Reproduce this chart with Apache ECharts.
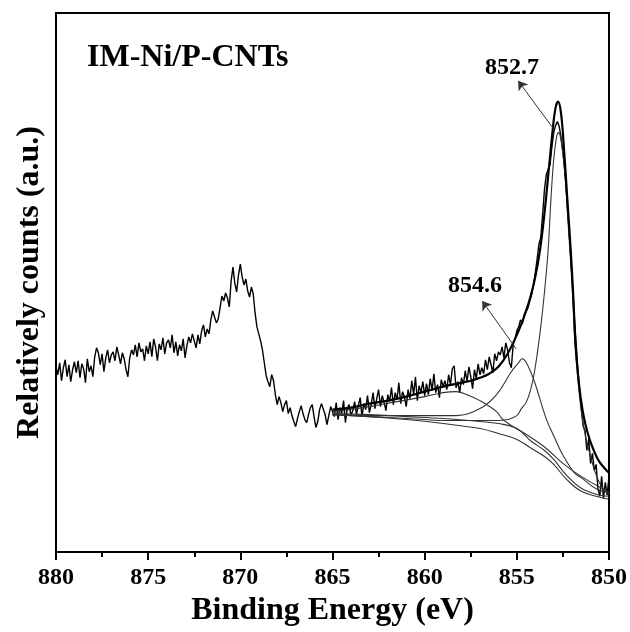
<!DOCTYPE html>
<html>
<head>
<meta charset="utf-8">
<script src="https://cdn.jsdelivr.net/npm/echarts@6/dist/echarts.min.js"></script>
<style>
  html, body { margin: 0; padding: 0; background: #fff; }
  #myChart { width: 630px; height: 632px; }
</style>
</head>
<body>
<div id="myChart"></div>
<script>
// 原始谱线: 880 eV 起, 每 0.1 eV 一个点 (强度为任意单位)
const rawStart = 880
const rawStep = 0.1
const rawCounts = [
  186, 178, 190, 172, 185, 193, 176, 188, 171, 183, 191,
  180, 192, 175, 189, 184, 170, 194, 181, 187, 176,
  196, 205, 200, 188, 199, 181, 195, 203, 190, 198,
  201, 192, 206, 198, 189, 200, 194, 183, 176, 195,
  203, 198, 208, 196, 210, 201, 204, 192, 207, 199,
  211, 196, 214, 206, 192, 209, 203, 215, 199, 210,
  213, 205, 218, 200, 211, 197, 208, 202, 214, 195,
  207, 216, 210, 219, 212, 205, 218, 209, 222, 228,
  216, 224, 219, 233, 242, 236, 230, 234, 245, 257,
  252, 260, 255, 246, 272, 286, 270, 261, 278, 289,
  276, 268, 274, 262, 256, 266, 259, 240, 226, 219,
  212, 203, 190, 177, 171, 166, 178, 172, 158, 148,
  156, 150, 141, 148, 152, 139, 145, 137, 131, 126,
  134, 141, 147, 139, 133, 130, 138, 145, 148, 136,
  125, 131, 143, 149, 151, 138, 128, 137, 146, 144,
  136, 150, 133, 145, 139, 152, 130, 144, 148, 137,
  142, 151, 138, 147, 155, 136, 149, 143, 157, 140,
  148, 160, 144, 154, 163, 146, 157, 150, 142, 158,
  151, 165, 148, 160, 153, 170, 149, 161, 156, 146,
  163, 154, 172, 158, 176, 152, 167, 160, 171, 157,
  169, 158, 174, 162, 179, 160, 168, 155, 173, 166,
  172, 163, 178, 168, 184, 187, 165, 171, 160, 175,
  168, 182, 171, 186, 176, 164, 183, 174, 189, 178,
  185, 179, 193, 183, 196, 188, 180, 199, 192, 201,
  198, 206, 195, 210, 203, 190, 185, 208, 214, 222,
  226, 233, 229, 238, 236, 245, 252, 258, 268, 280,
  294, 309, 316, 339, 364, 379, 384, 389, 406, 421,
  428, 432, 427, 416, 402, 382, 359, 332, 304, 274,
  242, 214, 186, 164, 144, 126, 122, 102, 114, 89,
  99, 82, 88, 64, 56, 76, 54, 70, 57, 76
]

// 拟合包络线 [eV, 强度]
const envelope = [
  [865, 143], [864, 145], [863, 149], [862, 152], [861, 156], [860, 161],
  [859, 166], [858, 170], [857.5, 172], [857, 175], [856.5, 179], [856, 186],
  [855.5, 199], [855, 218], [854.75, 229], [854.5, 242], [854.25, 257],
  [854, 276], [853.75, 302], [853.5, 340], [853.25, 387], [853.07, 421],
  [852.9, 446], [852.76, 452], [852.6, 440], [852.44, 404], [852.26, 354],
  [852.08, 304], [851.93, 254], [851.8, 204], [851.53, 154], [851.18, 121],
  [850.63, 94], [850.09, 81], [850, 80]
]

// 852.7 eV 峰
const peakMain = [
  [865, 138], [864, 137], [863, 136], [862, 135], [861, 134], [860, 133],
  [859, 132], [858, 132], [857, 132], [856, 132], [855.5, 133], [855, 137],
  [854.75, 144], [854.5, 150], [854.25, 163], [854.05, 180], [853.75, 219],
  [853.5, 261], [853.3, 304], [853.15, 354], [853, 394], [852.85, 416],
  [852.75, 421], [852.65, 418], [852.55, 406], [852.4, 382], [852.25, 339],
  [852.1, 296], [852, 266], [851.85, 212], [851.7, 176], [851.5, 141],
  [851.25, 114], [851, 96], [850.75, 80], [850.5, 69], [850.25, 62], [850, 58]
]

// 854.6 eV 峰
const peakSecond = [
  [865, 138], [863, 137], [861, 137], [859, 137], [858.3, 137], [857, 144],
  [856.1, 158], [855.3, 181], [854.95, 189], [854.7, 194], [854.45, 189],
  [854.06, 172], [853.41, 134], [852.98, 116], [852.55, 99], [851.9, 80],
  [851.46, 74], [850.65, 63], [850, 60]
]

// 卫星峰
const peakSat = [
  [865, 141], [863, 146], [861.5, 151], [860, 156], [859, 160], [858.3, 161],
  [857.7, 158], [857, 152], [856.1, 141], [855.8, 134], [855.3, 127],
  [854.4, 117], [853.4, 104], [852.5, 89], [851.6, 77], [850.1, 61], [850, 60]
]

// Shirley 背景
const bgUpper = [
  [865, 139], [863, 138], [861, 136], [859, 134], [857, 131], [856, 129],
  [855, 124], [854.2, 111], [853.5, 102], [853, 93], [852.3, 77],
  [851.5, 64], [850.5, 57], [850, 56]
]
const bgLower = [
  [865, 138], [863, 136], [861, 133], [859, 129], [857, 124], [856, 119],
  [855, 113], [854.2, 104], [853.5, 96], [853, 88], [852.3, 73],
  [851.5, 61], [850.5, 55], [850, 53]
]

const xTicks = [850, 855, 860, 865, 870, 875, 880]

const serif = 'Liberation Serif, Times New Roman, serif'
const rawData = rawCounts.map((v, i) => [+(rawStart - i * rawStep).toFixed(1), v])

function thinLine (name, data) {
  return {
    name: name,
    type: 'line',
    data: data,
    smooth: 0.4,
    symbol: 'none',
    silent: true,
    z: 3,
    lineStyle: { color: '#333', width: 1.1 }
  }
}

const myChart = echarts.init(document.getElementById('myChart'))
myChart.setOption({
  animation: false,
  backgroundColor: '#fff',
  grid: {
    left: 56,
    right: 20,
    top: 13,
    bottom: 78,
    show: true,
    borderColor: '#000',
    borderWidth: 2
  },
  xAxis: {
    type: 'value',
    inverse: true,
    min: xTicks[0],
    max: xTicks[xTicks.length - 1],
    interval: 5,
    name: 'Binding Energy (eV)',
    nameLocation: 'middle',
    nameGap: 25,
    nameTextStyle: { fontFamily: serif, fontWeight: 'bold', fontSize: 32, color: '#000' },
    axisLine: { lineStyle: { color: '#000', width: 2 } },
    axisTick: { length: 8, lineStyle: { color: '#000', width: 2 } },
    minorTick: { show: true, splitNumber: 2, length: 5, lineStyle: { color: '#000', width: 2 } },
    axisLabel: { margin: 14, fontFamily: serif, fontWeight: 'bold', fontSize: 24, color: '#000' },
    splitLine: { show: false }
  },
  yAxis: {
    type: 'value',
    min: 0,
    max: 541,
    name: 'Relatively counts (a.u.)',
    nameLocation: 'middle',
    nameGap: 10,
    nameTextStyle: { fontFamily: serif, fontWeight: 'bold', fontSize: 32, color: '#000' },
    axisLine: { show: true, lineStyle: { color: '#000', width: 2 } },
    axisTick: { show: false },
    axisLabel: { show: false },
    splitLine: { show: false }
  },
  graphic: [
    {
      type: 'text',
      x: 87,
      y: 58,
      style: { text: 'IM-Ni/P-CNTs', font: 'bold 32px ' + serif, fill: '#000', textVerticalAlign: 'middle' }
    },
    {
      type: 'text',
      x: 512,
      y: 68,
      style: { text: '852.7', font: 'bold 24px ' + serif, fill: '#000', textAlign: 'center', textVerticalAlign: 'middle' }
    },
    {
      type: 'text',
      x: 475,
      y: 286,
      style: { text: '854.6', font: 'bold 24px ' + serif, fill: '#000', textAlign: 'center', textVerticalAlign: 'middle' }
    }
  ],
  series: [
    {
      name: 'raw',
      type: 'line',
      data: rawData,
      symbol: 'none',
      silent: true,
      z: 2,
      lineStyle: { color: '#000', width: 1.4 }
    },
    thinLine('bgLower', bgLower),
    thinLine('bgUpper', bgUpper),
    thinLine('sat', peakSat),
    thinLine('854.6', peakSecond),
    thinLine('852.7', peakMain),
    {
      name: 'envelope',
      type: 'line',
      data: envelope,
      smooth: 0.4,
      symbol: 'none',
      silent: true,
      z: 4,
      lineStyle: { color: '#000', width: 2.2 },
      markLine: {
        silent: true,
        symbol: ['none', 'arrow'],
        symbolSize: 9,
        label: { show: false },
        lineStyle: { color: '#333', width: 1, type: 'solid' },
        data: [
          [{ coord: [852.98, 424] }, { coord: [854.93, 473] }],
          [{ coord: [855.04, 204] }, { coord: [856.88, 252] }]
        ]
      }
    }
  ]
})
</script>
</body>
</html>
